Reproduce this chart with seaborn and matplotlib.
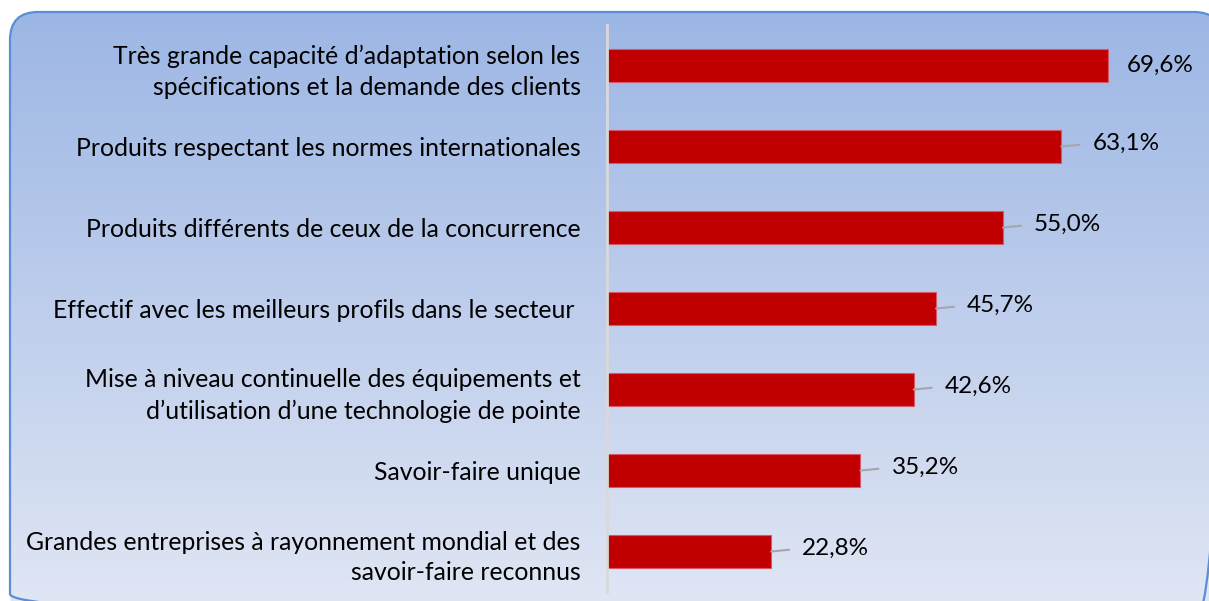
import numpy as np
import pandas as pd
import matplotlib
matplotlib.use('Agg')
import matplotlib.pyplot as plt
from matplotlib.patches import FancyBboxPatch
import seaborn as sns

# Chart data
categories = [
    'Très grande capacité d\u2019adaptation selon les\nspécifications et la demande des clients',
    'Produits respectant les normes internationales',
    'Produits différents de ceux de la concurrence',
    'Effectif avec les meilleurs profils dans le secteur ',
    'Mise à niveau continuelle des équipements et\nd\u2019utilisation d\u2019une technologie de pointe',
    'Savoir-faire unique',
    'Grandes entreprises à rayonnement mondial et des\nsavoir-faire reconnus',
]
values = [69.6, 63.1, 55.0, 45.7, 42.6, 35.2, 22.8]
value_labels = ['69,6%', '63,1%', '55,0%', '45,7%', '42,6%', '35,2%', '22,8%']

df = pd.DataFrame({'critere': categories, 'pct': values})

sns.set_style('white')
plt.rcParams['font.family'] = ['Lato', 'DejaVu Sans']

fig = plt.figure(figsize=(12.09, 6.01), dpi=100)
fig.patch.set_facecolor('white')

# Background: rounded box with vertical gradient (pixel coordinates)
bg = fig.add_axes([0, 0, 1, 1], zorder=0)
box = FancyBboxPatch((10, 12), 1212, 610, boxstyle='round,pad=0,rounding_size=28',
                     facecolor='none', edgecolor='#5B8ED6', linewidth=1.6, zorder=2)
bg.add_patch(box)
grad = np.linspace(0, 1, 256).reshape(-1, 1)
cmap = matplotlib.colors.LinearSegmentedColormap.from_list('bg', ['#9CB6E4', '#E0E6F4'])
im = bg.imshow(grad, cmap=cmap, aspect='auto', extent=(10, 1222, 605, 12), zorder=1)
im.set_clip_path(box)
bg.set_xlim(0, 1209)
bg.set_ylim(601, 0)
bg.axis('off')

# Main bar chart
ax = fig.add_axes([607 / 1209, 1 - 592 / 601, (80 * 7.2) / 1209, (592 - 25) / 601], zorder=1)
ax.patch.set_alpha(0)
sns.barplot(data=df, x='pct', y='critere', orient='h', color='#C00000', saturation=1,
            width=0.4, edgecolor='#D9576A', linewidth=0.8, ax=ax)
ax.set_xlim(0, 80)
ax.set_ylim(6.5, -0.5)
ax.set_xlabel('')
ax.set_ylabel('')
ax.set_xticks([])
ax.tick_params(axis='y', length=0, pad=19, labelsize=17.8, labelcolor='black')
for lab in ax.get_yticklabels():
    lab.set_linespacing(1.42)
for side in ['top', 'right', 'bottom']:
    ax.spines[side].set_visible(False)
ax.spines['left'].set_color('#D9D9D9')
ax.spines['left'].set_linewidth(2)

# Value labels with leader lines
for i, (v, txt) in enumerate(zip(values, value_labels)):
    if i == 0:
        ax.annotate(txt, xy=(v, i), xytext=(19, 0), textcoords='offset pixels',
                    ha='left', va='center', fontsize=17.5, color='black')
    else:
        ax.annotate(txt, xy=(v, i), xytext=(31, 3), textcoords='offset pixels',
                    ha='left', va='center', fontsize=17.5, color='black',
                    arrowprops=dict(arrowstyle='-', color='#A6A6A6', lw=1.5,
                                    shrinkA=7, shrinkB=0, relpos=(0, 0.5)))

fig.savefig('out.png', dpi=100)
